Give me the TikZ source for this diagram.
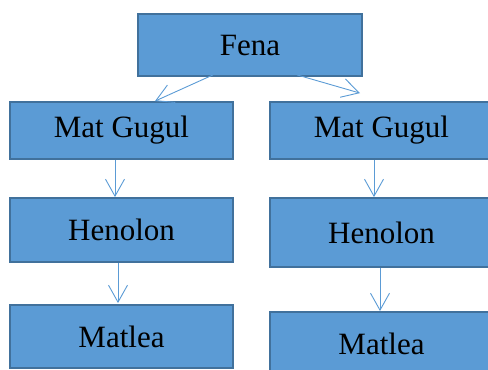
\documentclass[tikz,border=0pt]{standalone}
\usepackage{fontspec}
\setmainfont{Liberation Serif}
\usetikzlibrary{arrows.meta}
\definecolor{boxblue}{HTML}{5B9BD5}
\definecolor{edgeblue}{HTML}{41719C}
\tikzstyle{blk}=[draw=edgeblue, line width=1.8pt, fill=boxblue, minimum width=223pt, inner sep=0pt, font=\fontsize{31}{34}\selectfont]
\tikzstyle{conn}=[draw=boxblue, line width=0.9pt, -{Straight Barb[length=17pt,width=19pt]}]

\begin{document}
\begin{tikzpicture}[x=1pt, y=-1pt]
	\useasboundingbox (0,0) rectangle (488,370);

	\node[blk, minimum width=224pt, minimum height=62pt] (fena) at (250,45) {Fena};

	\node[blk, minimum height=57pt] (l1) at (121.5,130.5) {Mat Gugul};
	\node[blk, minimum height=64pt] (l2) at (121.5,230) {Henolon};
	\node[blk, minimum height=63pt] (l3) at (121.5,336.5) {Matlea};

	\node[blk, minimum height=57pt] (r1) at (381.5,130.5) {Mat Gugul};
	\node[blk, minimum height=69pt] (r2) at (381.5,232.5) {Henolon};
	\node[blk, minimum height=63pt] (r3) at (381.5,343.5) {Matlea};

	\draw[conn] ([xshift=-37pt,yshift=2pt]fena.south) -- ([xshift=33.5pt]l1.north);
	\draw[conn] ([xshift=47pt,yshift=2pt]fena.south) -- ([xshift=-21.5pt,yshift=8pt]r1.north);
	\draw[conn] ([xshift=-6.5pt]l1.south) -- ([xshift=-6.5pt]l2.north);
	\draw[conn] ([xshift=-3.5pt]l2.south) -- ([xshift=-3.5pt,yshift=1pt]l3.north);
	\draw[conn] ([xshift=-7.5pt]r1.south) -- ([xshift=-7.5pt]r2.north);
	\draw[conn] ([xshift=-1.5pt]r2.south) -- ([xshift=-1.5pt]r3.north);

\end{tikzpicture}
\end{document}
